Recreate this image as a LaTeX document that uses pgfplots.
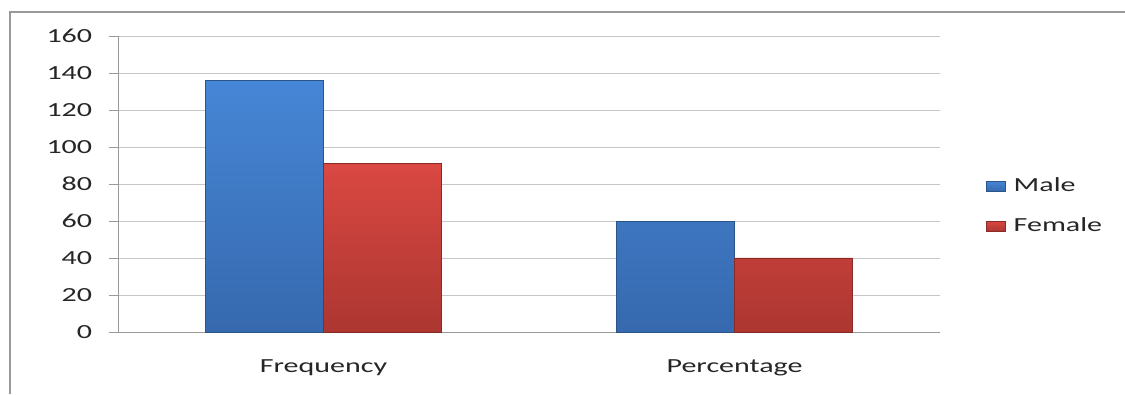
\documentclass[border=0pt]{standalone}
\usepackage{fontspec}
\setmainfont{Carlito}[FakeStretch=1.5]
\usepackage{pgfplots}
\pgfplotsset{compat=1.18}
\definecolor{maletop}{HTML}{4686D6}
\definecolor{malebot}{HTML}{3669AE}
\definecolor{maleedge}{HTML}{2B5589}
\definecolor{femtop}{HTML}{DA4842}
\definecolor{fembot}{HTML}{AC3631}
\definecolor{femedge}{HTML}{8A2A26}
\pgfplotstableread{
x male female
0 136 91
1 59.9 40.1
}\datatable
\begin{document}
\fontsize{20}{24}\selectfont
\begin{tikzpicture}[x=1pt,y=1pt]
\useasboundingbox (0,0) rectangle (1125,394);
\draw[gray!80, line width=2pt] (10,0) -- (10,382) -- (1125,382);
\begin{axis}[
  at={(118pt,62pt)}, anchor=south west,
  scale only axis, width=822pt, height=296pt,
  ybar=0pt, bar width=0.2871,
  xmin=-0.5, xmax=1.5, ymin=0, ymax=160,
  ytick={0,20,...,160},
  xtick={0,1}, xticklabels={Frequency,Percentage},
  xtick style={draw=none},
  extra x ticks={-0.5,0.5,1.5}, extra x tick labels={},
  extra x tick style={grid=none, tick style={draw=gray!80, line width=0.8pt}},
  axis lines*=left,
  axis line style={gray!80, line width=0.8pt},
  ytick style={gray!80, line width=0.8pt},
  tick align=outside, major tick length=9pt,
  ymajorgrids, grid style={gray!45, line width=0.9pt},
  /pgf/number format/assume math mode=true,
  tick label style={font=\fontsize{20}{24}\selectfont, text=black!85},
  yticklabel style={xshift=-10pt},
  xticklabel style={yshift=-12pt},
  legend style={at={(1.056,0.425)}, anchor=west, draw=none, fill=none,
    font=\fontsize{20}{24}\selectfont, text=black!85, row sep=19pt, inner sep=0pt},
  legend cell align=left,
  legend image code/.code={\draw[#1, line width=0.4pt] (0pt,-5pt) rectangle (19pt,5pt); \path (25pt,0pt);},
]
\addplot[bar shift=-0.14355, top color=maletop, bottom color=malebot, draw=maleedge, line width=0.6pt] table[x=x,y=male]{\datatable};
\addplot[bar shift=0.14355, top color=femtop, bottom color=fembot, draw=femedge, line width=0.6pt] table[x=x,y=female]{\datatable};
\legend{Male,Female}
\end{axis}
\end{tikzpicture}
\end{document}
